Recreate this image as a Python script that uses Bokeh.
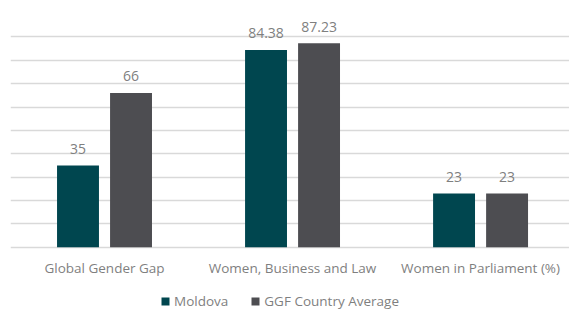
from bokeh.plotting import figure
from bokeh.models import ColumnDataSource, Range1d, FixedTicker, Legend, LegendItem
from bokeh.core.properties import value
from bokeh.embed import file_html
from bokeh.resources import INLINE

categories = ["Global Gender Gap", "Women, Business and Law", "Women in Parliament (%)"]
series = ["Moldova", "GGF Country Average"]
moldova = [35, 84.38, 23]
ggf_avg = [66, 87.23, 23]
label_moldova = ["35", "84.38", "23"]
label_ggf = ["66", "87.23", "23"]
colors = ["#00464f", "#4d4d51"]
grid_ticks = list(range(0, 101, 10))

FONT = "Open Sans"
GREY = "#7f7f7f"

centers = [i + 0.5 for i in range(len(categories))]
offset = 0.141
bw = 0.223
px_per_unit = 2.338

p = figure(width=569, height=309, output_backend="svg", toolbar_location=None,
           x_range=Range1d(0, 2.973), y_range=Range1d(-26.6, 100),
           min_border_left=10, min_border_right=0, min_border_top=13, min_border_bottom=0)
p.outline_line_color = None
p.background_fill_color = "white"
p.border_fill_color = "white"
p.axis.visible = False

p.ygrid.ticker = FixedTicker(ticks=grid_ticks)
p.ygrid.grid_line_color = "#d9d9d9"
p.ygrid.grid_line_width = 1.5
p.xgrid.visible = False

renderers = []
for vals, labs, col, off in [(moldova, label_moldova, colors[0], -offset), (ggf_avg, label_ggf, colors[1], offset)]:
    xs = [c + off for c in centers]
    src = ColumnDataSource(dict(x=xs, top=vals, lab=labs, ly=[v + 16.7 / px_per_unit for v in vals]))
    r = p.vbar(x="x", top="top", width=bw, source=src, fill_color=col, line_color=None)
    renderers.append(r)
    p.text(x="x", y="ly", text="lab", source=src, text_align="center", text_baseline="middle",
           text_font=value(FONT), text_font_size="14px", text_color=GREY)

# category labels below the baseline
cat_src = ColumnDataSource(dict(x=centers, y=[-20.5 / px_per_unit] * len(centers), t=categories))
p.text(x="x", y="y", text="t", source=cat_src, text_align="center", text_baseline="middle",
       text_font=value(FONT), text_font_size="13.5px", text_color=GREY)

legend = Legend(items=[LegendItem(label=series[0], renderers=[renderers[0]]),
                       LegendItem(label=series[1], renderers=[renderers[1]])],
                orientation="horizontal", location=(150, -1),
                label_text_font=FONT, label_text_font_size="13.5px", label_text_color=GREY,
                glyph_width=10, glyph_height=10, label_height=14, label_standoff=4, spacing=22,
                border_line_color=None, background_fill_alpha=0, padding=0, margin=0)
p.add_layout(legend)

open("out.html", "w").write(file_html(p, INLINE))
